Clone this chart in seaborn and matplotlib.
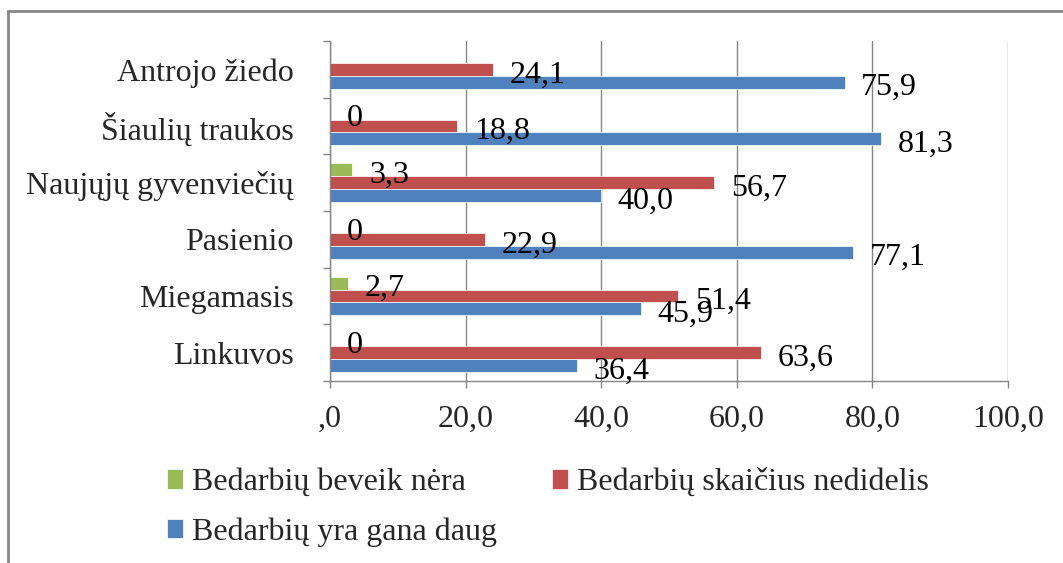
import numpy as np
import pandas as pd
import matplotlib
matplotlib.use('Agg')
import matplotlib.pyplot as plt
import seaborn as sns
from matplotlib.patches import Rectangle

categories = ['Antrojo žiedo', 'Šiaulių traukos', 'Naujųjų gyvenviečių',
              'Pasienio', 'Miegamasis', 'Linkuvos']
series_names = ['Bedarbių beveik nėra', 'Bedarbių skaičius nedidelis',
                'Bedarbių yra gana daug']
green_vals = [np.nan, 0, 3.3, 0, 2.7, 0]
red_vals = [24.1, 18.8, 56.7, 22.9, 51.4, 63.6]
blue_vals = [75.9, 81.3, 40.0, 77.1, 45.9, 36.4]
xticks = [0, 20, 40, 60, 80, 100]
xtick_labels = [',0', '20,0', '40,0', '60,0', '80,0', '100,0']
colors = ['#9BBB59', '#C0504D', '#4F81BD']

rows = []
for name, vals in zip(series_names, [green_vals, red_vals, blue_vals]):
    for cat, v in zip(categories, vals):
        rows.append({'cat': cat, 'series': name, 'value': v})
df = pd.DataFrame(rows)

sns.set_style('white')
plt.rcParams['font.family'] = ['Liberation Serif', 'DejaVu Serif']
FS = 23
gray = '#868686'

fig = plt.figure(figsize=(10.63, 5.63), dpi=100)
ax = fig.add_axes([330 / 1063, 1 - 381 / 563, 678 / 1063, 340 / 563])

sns.barplot(data=df, y='cat', x='value', hue='series', hue_order=series_names,
            order=categories, palette=colors, saturation=1, orient='h',
            width=0.68, gap=0, edgecolor='white', linewidth=0.5,
            errorbar=None, ax=ax)

# data labels (NaN bars are not drawn, so read values off the bars)
for cont in ax.containers:
    for bar in cont:
        v = bar.get_width()
        if np.isnan(v):
            continue
        txt = '0' if v == 0 else f'{v:.1f}'.replace('.', ',')
        yc = bar.get_y() + bar.get_height() / 2
        ax.annotate(txt, (v, yc), xytext=(12, -4),
                    textcoords='offset points', ha='left', va='center',
                    fontsize=FS, color='black')

ax.set_xlim(0, 100)
ax.set_ylim(len(categories) - 0.5, -0.5)
ax.set_xticks(xticks)
ax.set_xticklabels(xtick_labels, fontsize=FS)
ax.set_yticks(range(len(categories)))
ax.set_yticklabels(categories, fontsize=FS)
ax.set_yticks(np.arange(-0.5, len(categories)), minor=True)
ax.tick_params(axis='y', which='major', length=0, pad=26)
ax.tick_params(axis='y', which='minor', length=5, width=1, color=gray, left=True)
ax.tick_params(axis='x', length=5, width=1, color=gray, bottom=True, pad=12)
ax.set_xlabel('')
ax.set_ylabel('')
ax.grid(axis='x', color=gray, linewidth=1)
ax.set_axisbelow(True)
for s in ['top', 'right']:
    ax.spines[s].set_visible(False)
for s in ['left', 'bottom']:
    ax.spines[s].set_color(gray)
    ax.spines[s].set_linewidth(1)

# legend: green & red on first row, blue on second
handles, labels = ax.get_legend_handles_labels()
ax.legend_.remove()
order = [0, 2, 1]
fig.legend([handles[i] for i in order], [labels[i] for i in order],
           ncol=2, loc='upper left', bbox_to_anchor=(167 / 1063, 1 - 468 / 563),
           frameon=False, fontsize=FS, borderpad=0, borderaxespad=0,
           handlelength=0.5, handleheight=0.55, handletextpad=0.28,
           columnspacing=1.72, labelspacing=0.62)

# outer chart frame
fig.patches.append(Rectangle((8 / 1063, -0.1), 1.2, 1 - 11 / 563 + 0.1,
                             transform=fig.transFigure, fill=False,
                             edgecolor=gray, linewidth=2, zorder=0))

fig.savefig('out.png', dpi=100)
